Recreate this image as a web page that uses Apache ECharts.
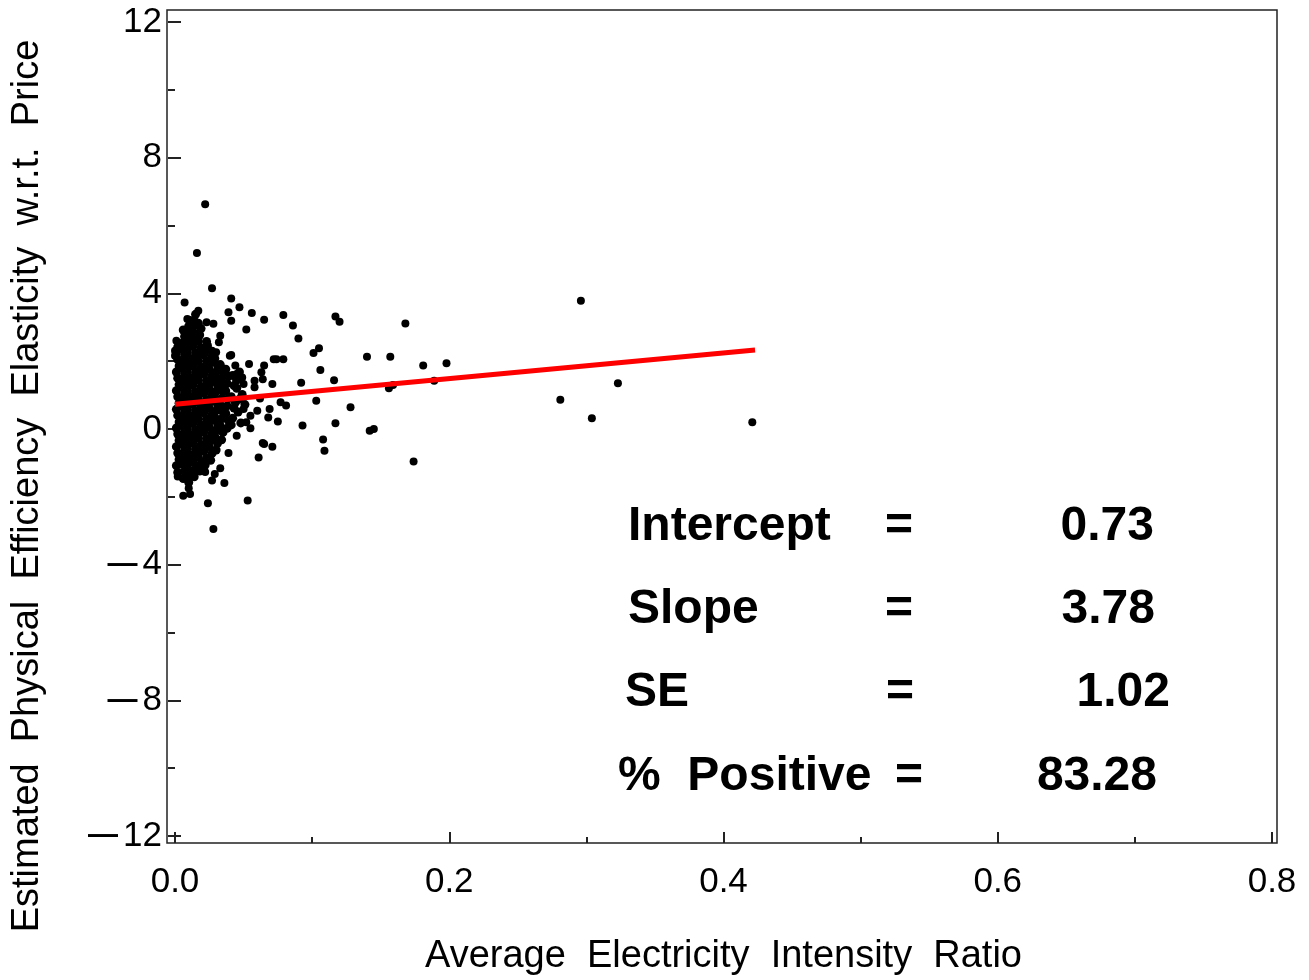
<!DOCTYPE html>
<html>
<head>
<meta charset="UTF-8">
<title>Elasticity vs Electricity Intensity</title>
<script src="https://cdn.jsdelivr.net/npm/echarts@6/dist/echarts.min.js"></script>
<style>
  html, body { margin: 0; padding: 0; background: #fff; }
  #main { width: 1309px; height: 980px; }
</style>
</head>
<body>
<div id="main"></div>
<script>
var pointsCore = [
  [0.002,-1.28],[0.001,-1.08],[0.003,-0.9],[0.002,-0.71],[0.001,-0.52],[0.003,-0.34],[0.002,-0.15],[0.001,0.03],[0.003,0.21],[0.002,0.4],[0.001,0.58],[0.003,0.76],[0.002,0.95],[0.001,1.13],[0.003,1.31],[0.002,1.5],[0.001,1.68],[0.003,1.86],[0.002,2.05],[0.001,2.24],[0.002,2.42],
  [0.006,-1.46],[0.007,-1.25],[0.005,-1.04],[0.006,-0.84],[0.007,-0.64],[0.005,-0.45],[0.006,-0.26],[0.007,-0.07],[0.005,0.12],[0.006,0.31],[0.007,0.5],[0.005,0.68],[0.006,0.87],[0.007,1.06],[0.005,1.24],[0.006,1.43],[0.007,1.62],[0.005,1.8],[0.006,1.99],[0.007,2.18],[0.005,2.36],[0.006,2.55],[0.007,2.73],[0.006,2.92],
  [0.010,-1.58],[0.011,-1.37],[0.009,-1.16],[0.010,-0.96],[0.011,-0.76],[0.009,-0.56],[0.010,-0.37],[0.011,-0.18],[0.009,0.01],[0.010,0.2],[0.011,0.39],[0.009,0.58],[0.010,0.77],[0.011,0.96],[0.009,1.14],[0.010,1.33],[0.011,1.52],[0.009,1.71],[0.010,1.9],[0.011,2.08],[0.009,2.27],[0.010,2.46],[0.011,2.65],[0.009,2.84],[0.010,3.03],[0.011,3.2],
  [0.014,-1.41],[0.015,-1.2],[0.013,-0.99],[0.014,-0.79],[0.015,-0.6],[0.013,-0.41],[0.014,-0.22],[0.015,-0.03],[0.013,0.16],[0.014,0.35],[0.015,0.54],[0.013,0.73],[0.014,0.92],[0.015,1.1],[0.013,1.29],[0.014,1.48],[0.015,1.67],[0.013,1.86],[0.014,2.05],[0.015,2.24],[0.013,2.43],[0.014,2.62],[0.015,2.81],[0.013,3.0],[0.014,3.19],[0.015,3.38],
  [0.018,-1.24],[0.019,-1.04],[0.017,-0.84],[0.018,-0.65],[0.019,-0.46],[0.017,-0.27],[0.018,-0.08],[0.019,0.11],[0.017,0.3],[0.018,0.49],[0.019,0.68],[0.017,0.87],[0.018,1.06],[0.019,1.25],[0.017,1.44],[0.018,1.63],[0.019,1.82],[0.017,2.01],[0.018,2.2],[0.019,2.39],[0.017,2.58],[0.018,2.77],[0.019,2.96],[0.017,3.12],
  [0.022,-1.06],[0.023,-0.86],[0.021,-0.66],[0.022,-0.47],[0.023,-0.28],[0.021,-0.09],[0.022,0.1],[0.023,0.29],[0.021,0.48],[0.022,0.67],[0.023,0.86],[0.021,1.05],[0.022,1.24],[0.023,1.43],[0.021,1.62],[0.022,1.81],[0.023,2.0],[0.021,2.19],[0.022,2.38],[0.023,2.58],
  [0.026,-0.92],[0.027,-0.72],[0.025,-0.52],[0.026,-0.33],[0.027,-0.14],[0.025,0.05],[0.026,0.24],[0.027,0.43],[0.025,0.62],[0.026,0.81],[0.027,1.0],[0.025,1.19],[0.026,1.38],[0.027,1.57],[0.025,1.76],[0.026,1.95],[0.027,2.14],[0.025,2.32],
  [0.030,-0.62],[0.031,-0.42],[0.029,-0.22],[0.030,-0.03],[0.031,0.16],[0.029,0.35],[0.030,0.54],[0.031,0.73],[0.029,0.92],[0.030,1.11],[0.031,1.3],[0.029,1.49],[0.030,1.68],[0.031,1.88],[0.029,2.08],
  [0.034,-0.32],[0.035,-0.1],[0.033,0.1],[0.034,0.3],[0.035,0.5],[0.033,0.7],[0.034,0.9],[0.035,1.1],[0.033,1.3],[0.034,1.5],[0.035,1.7],[0.033,1.9],
  [0.038,0.02],[0.039,0.24],[0.037,0.46],[0.038,0.68],[0.039,0.9],[0.037,1.12],[0.038,1.34],[0.039,1.56],[0.037,1.76],
  [0.042,0.32],[0.043,0.62],[0.041,0.95],[0.043,1.28],[0.042,1.58],[0.046,0.5],[0.047,0.88],[0.045,1.2],[0.048,0.18],
  [0.041,0.12],[0.044,0.78],[0.045,1.44],[0.049,1.02],[0.051,0.72],[0.047,1.68]
];

// scattered points around and away from the cluster
var pointsSpread = [
  [0.022,6.63],[0.016,5.19],[0.027,4.15],[0.041,3.85],[0.007,3.73],[0.047,3.59],[0.039,3.44],[0.056,3.42],
  [0.065,3.22],[0.079,3.36],[0.086,3.05],[0.090,2.67],[0.117,3.32],[0.120,3.16],[0.052,2.93],[0.041,3.19],
  [0.017,3.49],[0.023,3.15],[0.028,3.1],[0.009,3.24],[0.012,2.85],[0.011,3.05],[0.105,2.38],[0.101,2.24],
  [0.106,1.74],[0.116,1.44],[0.074,2.06],[0.079,2.06],[0.054,1.92],[0.065,1.87],[0.063,1.67],[0.064,1.47],
  [0.071,1.33],[0.092,1.36],[0.041,2.18],[0.077,0.79],[0.081,0.69],[0.103,0.83],[0.128,0.64],[0.075,0.22],
  [0.093,0.10],[0.117,0.17],[0.108,-0.31],[0.109,-0.64],[0.065,-0.44],[0.071,-0.52],[0.061,-0.84],[0.055,0.02],
  [0.045,-0.2],[0.039,-0.71],[0.033,-1.16],[0.036,-1.59],[0.002,-1.4],[0.010,-1.75],[0.006,-1.97],[0.011,-1.92],
  [0.024,-2.19],[0.053,-2.11],[0.028,-2.95],[0.140,2.13],[0.157,2.13],[0.168,3.11],[0.181,1.87],[0.198,1.94],
  [0.189,1.42],[0.156,1.2],[0.159,1.3],[0.296,3.78],[0.323,1.35],[0.281,0.86],[0.304,0.32],[0.421,0.2],
  [0.174,-0.96],[0.142,-0.05],[0.145,0.0],[0.049,1.52],[0.050,1.33],[0.058,1.23],[0.060,0.54],[0.050,0.59],
  [0.055,0.39],[0.069,0.59],[0.068,0.34],[0.052,0.2],[0.062,0.9],[0.044,1.87],[0.045,1.62],[0.058,1.42],
  [0.072,2.06],[0.030,2.26],[0.027,2.31],[0.024,2.46],[0.033,2.75],[0.032,2.56],[0.040,2.16],[0.022,-0.96],
  [0.017,-1.09],[0.022,-1.27],[0.012,-1.23],[0.029,-1.33],[0.027,-1.52],[0.064,-0.41],[0.033,-0.05],[0.000,2.31],
  [0.001,2.6],[0.000,2.16]
];

// fitted regression line, end points as drawn
var fitLine = [[0.0, 0.73], [0.423, 2.33]];

var statNames = ['Intercept', 'Slope', 'SE', '%  Positive'];
var statValues = ['0.73', '3.78', '1.02', '83.28'];

var FONT = "'Liberation Sans', Arial, sans-serif";

var myChart = echarts.init(document.getElementById('main'));

// text block at lower right: name, '=', value
var rowY = [527, 610, 693, 777];
var nameX = [628, 628, 625, 618];
var eqX = [899, 899, 900, 909];
var valRight = [1154, 1155, 1170, 1157];
var graphics = [
  { type: 'rect', shape: { x: 167, y: 10, width: 1110, height: 833 },
    style: { fill: 'none', stroke: '#222', lineWidth: 1.5 }, z: 1 },
  { type: 'text', x: 28, y: 486, rotation: Math.PI / 2,
    style: { text: 'Estimated  Physical  Efficiency  Elasticity  w.r.t.  Price',
             font: "38px " + FONT, fill: '#000', align: 'center', verticalAlign: 'middle' } }
];
for (var i = 0; i < statNames.length; i++) {
  graphics.push({ type: 'text', x: nameX[i], y: rowY[i],
    style: { text: statNames[i], font: "bold 48px " + FONT, fill: '#000', align: 'left', verticalAlign: 'middle' } });
  graphics.push({ type: 'text', x: eqX[i], y: rowY[i],
    style: { text: '=', font: "bold 48px " + FONT, fill: '#000', align: 'center', verticalAlign: 'middle' } });
  graphics.push({ type: 'text', x: valRight[i], y: rowY[i],
    style: { text: statValues[i], font: "bold 48px " + FONT, fill: '#000', align: 'right', verticalAlign: 'middle' } });
}

var option = {
  backgroundColor: '#fff',
  animation: false,
  grid: { left: 175, right: 37, top: 22, bottom: 144, outerBoundsMode: 'none' },
  xAxis: {
    type: 'value', min: 0, max: 0.8, interval: 0.2, offset: 7,
    name: 'Average  Electricity  Intensity  Ratio',
    nameLocation: 'middle', nameGap: 95,
    nameTextStyle: { fontFamily: FONT, fontSize: 38, color: '#000' },
    axisLine: { show: false, onZero: false },
    axisTick: { show: true, inside: true, length: 11, lineStyle: { color: '#222', width: 2 } },
    minorTick: { show: true, splitNumber: 2, length: 6, lineStyle: { color: '#222', width: 2 } },
    splitLine: { show: false },
    axisLabel: { fontFamily: FONT, fontSize: 35, color: '#000', margin: 22,
      formatter: function (v) { return v.toFixed(1); } }
  },
  yAxis: {
    type: 'value', min: -12, max: 12, interval: 4, offset: 7,
    axisLine: { show: false, onZero: false },
    axisTick: { show: true, inside: true, length: 13, lineStyle: { color: '#222', width: 2 } },
    minorTick: { show: true, splitNumber: 2, length: 7, lineStyle: { color: '#222', width: 2 } },
    splitLine: { show: false },
    axisLabel: { fontFamily: FONT, fontSize: 35, color: '#000', margin: 6,
      formatter: function (v) { return v < 0 ? '{m|\u2014}' + Math.abs(v) : String(v); },
      rich: { m: { fontFamily: FONT, fontSize: 30, fontWeight: 'bold', color: '#000', padding: [0, 5, 0, 0] } } }
  },
  graphic: graphics,
  series: [
    { name: 'core', type: 'scatter', data: pointsCore, symbol: 'circle', symbolSize: 9,
      itemStyle: { color: '#000', opacity: 1 }, z: 2 },
    { name: 'spread', type: 'scatter', data: pointsSpread, symbol: 'circle', symbolSize: 8,
      itemStyle: { color: '#000', opacity: 1 }, z: 2 },
    { name: 'fit', type: 'line', data: fitLine, symbol: 'none',
      lineStyle: { color: '#ff0000', width: 5 }, z: 3 }
  ]
};

myChart.setOption(option);
</script>
</body>
</html>
